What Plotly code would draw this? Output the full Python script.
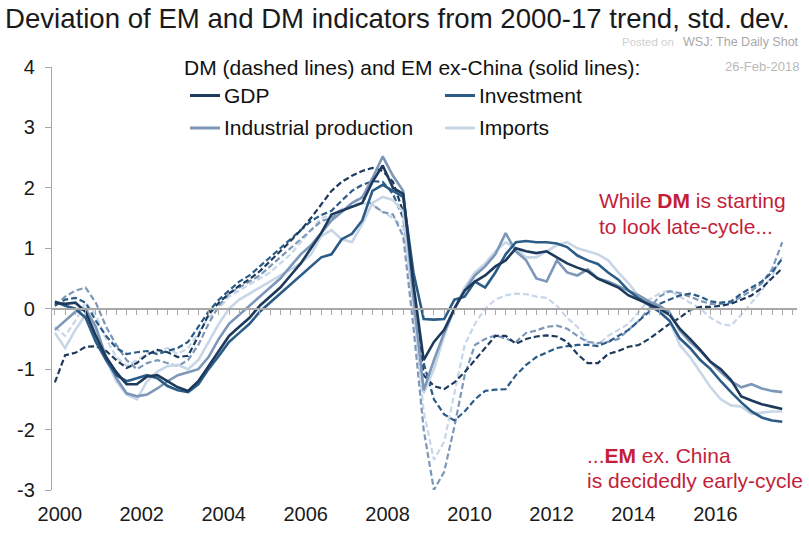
import plotly.graph_objects as go

# ---- data: quarterly deviations from 2000-17 trend (std. dev.), 2000Q1 .. 2017Q4 ----
QUARTERS = [2000 + k / 4 for k in range(72)]

EM_GDP = [0.10, 0.08, 0.10, -0.05, -0.45, -0.80, -1.05, -1.25, -1.25, -1.12, -1.10, -1.20,
          -1.30, -1.36, -1.20, -0.95, -0.70, -0.45, -0.30, -0.15, 0.05, 0.20, 0.35, 0.55,
          0.75, 1.00, 1.25, 1.56, 1.62, 1.68, 1.75, 2.10, 2.37, 2.00, 1.90, 0.40,
          -0.85, -0.55, -0.35, 0.00, 0.30, 0.45, 0.55, 0.70, 0.80, 1.00, 0.95, 0.92,
          0.95, 0.85, 0.75, 0.68, 0.62, 0.50, 0.42, 0.35, 0.22, 0.15, 0.08, 0.00,
          -0.10, -0.33, -0.50, -0.68, -0.88, -1.00, -1.18, -1.45, -1.52, -1.58, -1.62, -1.66]

EM_INVESTMENT = [0.12, 0.05, 0.00, -0.15, -0.55, -0.85, -1.10, -1.20, -1.15, -1.10, -1.15, -1.28,
                 -1.35, -1.38, -1.25, -1.00, -0.78, -0.55, -0.40, -0.25, -0.05, 0.10, 0.25, 0.40,
                 0.55, 0.70, 0.85, 0.90, 1.15, 1.24, 1.46, 1.95, 2.05, 1.95, 1.85, 0.60,
                 -0.17, -0.18, -0.17, 0.15, 0.20, 0.45, 0.35, 0.60, 0.90, 1.10, 1.12, 1.10,
                 1.10, 1.08, 1.02, 0.88, 0.80, 0.74, 0.60, 0.48, 0.30, 0.17, 0.06, -0.05,
                 -0.20, -0.49, -0.65, -0.85, -1.00, -1.20, -1.38, -1.55, -1.70, -1.80, -1.85, -1.87]

EM_IP = [-0.35, -0.20, -0.05, 0.00, -0.30, -0.80, -1.15, -1.40, -1.45, -1.42, -1.32, -1.20,
         -1.10, -1.05, -1.00, -0.80, -0.50, -0.25, -0.10, 0.05, 0.20, 0.35, 0.50, 0.70,
         0.90, 1.05, 1.25, 1.46, 1.60, 1.75, 1.84, 2.16, 2.52, 2.20, 1.95, 0.20,
         -1.35, -0.85, -0.40, 0.00, 0.30, 0.55, 0.70, 0.90, 1.25, 0.95, 0.80, 0.50,
         0.45, 0.80, 0.60, 0.55, 0.65, 0.50, 0.45, 0.37, 0.30, 0.22, 0.12, 0.05,
         -0.06, -0.36, -0.55, -0.70, -0.88, -1.05, -1.20, -1.30, -1.25, -1.32, -1.36, -1.38]

EM_IMPORTS = [-0.40, -0.65, -0.35, -0.10, -0.35, -0.85, -1.20, -1.42, -1.50, -1.20, -1.04, -0.95,
              -0.93, -1.00, -0.85, -0.55, -0.25, 0.00, 0.15, 0.25, 0.35, 0.45, 0.55, 0.65,
              0.75, 0.90, 1.20, 1.30, 1.15, 1.10, 1.40, 1.75, 1.85, 1.80, 1.60, 0.10,
              -1.40, -1.00, -0.45, 0.00, 0.35, 0.60, 0.75, 0.95, 1.10, 1.00, 0.85, 0.85,
              0.95, 1.05, 1.10, 1.00, 0.95, 0.90, 0.80, 0.60, 0.42, 0.20, 0.08, -0.02,
              -0.20, -0.60, -0.80, -1.05, -1.30, -1.50, -1.60, -1.62, -1.74, -1.72, -1.70, -1.70]

DM_GDP = [-1.22, -0.77, -0.73, -0.63, -0.62, -0.70, -0.85, -0.98, -0.90, -0.76, -0.68, -0.72,
          -0.80, -0.78, -0.45, -0.10, 0.10, 0.25, 0.38, 0.49, 0.62, 0.78, 0.95, 1.12,
          1.30, 1.50, 1.72, 1.95, 2.10, 2.20, 2.28, 2.33, 2.28, 2.10, 1.60, 0.20,
          -1.10, -1.28, -1.33, -1.22, -1.05, -0.85, -0.65, -0.45, -0.45, -0.58, -0.50, -0.46,
          -0.44, -0.46, -0.55, -0.75, -0.90, -0.90, -0.75, -0.70, -0.63, -0.60, -0.50, -0.38,
          -0.25, -0.15, -0.02, 0.03, 0.03, 0.05, 0.08, 0.15, 0.22, 0.34, 0.50, 0.67]

DM_INVESTMENT = [0.05, 0.15, 0.18, 0.10, -0.20, -0.45, -0.65, -0.75, -0.72, -0.70, -0.75, -0.70,
                 -0.65, -0.55, -0.30, -0.05, 0.15, 0.30, 0.45, 0.55, 0.70, 0.85, 1.00, 1.15,
                 1.30, 1.45, 1.55, 1.62, 1.79, 1.95, 2.05, 2.11, 2.10, 1.90, 1.50, 0.30,
                 -0.90, -1.50, -1.75, -1.85, -1.70, -1.50, -1.36, -1.34, -1.33, -1.10, -0.93, -0.80,
                 -0.73, -0.65, -0.62, -0.60, -0.60, -0.62, -0.55, -0.45, -0.35, -0.20, -0.05, 0.08,
                 0.15, 0.22, 0.25, 0.20, 0.12, 0.10, 0.12, 0.25, 0.35, 0.45, 0.60, 0.83]

DM_IP = [0.05, 0.20, 0.30, 0.35, 0.10, -0.30, -0.60, -0.85, -1.00, -0.90, -0.85, -0.90,
         -0.95, -0.85, -0.60, -0.25, 0.05, 0.25, 0.35, 0.45, 0.55, 0.70, 0.85, 1.00,
         1.15, 1.30, 1.45, 1.50, 1.60, 1.75, 1.85, 1.72, 1.60, 1.56, 1.20, -0.30,
         -2.00, -3.00, -2.70, -1.95, -1.10, -0.60, -0.50, -0.44, -0.50, -0.55, -0.40, -0.36,
         -0.30, -0.28, -0.33, -0.45, -0.55, -0.57, -0.55, -0.50, -0.35, -0.20, 0.00, 0.20,
         0.29, 0.26, 0.20, 0.13, 0.08, 0.08, 0.10, 0.20, 0.30, 0.42, 0.65, 1.10]

DM_IMPORTS = [-0.30, -0.45, -0.20, 0.10, -0.10, -0.50, -0.80, -0.95, -0.85, -0.75, -0.70, -0.65,
              -0.75, -0.65, -0.40, -0.15, 0.00, 0.20, 0.30, 0.40, 0.50, 0.60, 0.75, 0.90,
              1.10, 1.30, 1.50, 1.55, 1.65, 1.72, 1.75, 1.72, 1.60, 1.50, 1.35, 0.00,
              -1.70, -2.50, -2.20, -1.40, -0.60, -0.25, 0.00, 0.15, 0.22, 0.25, 0.24, 0.20,
              0.18, 0.05, -0.15, -0.30, -0.55, -0.60, -0.45, -0.35, -0.25, -0.05, 0.15, 0.25,
              0.30, 0.20, 0.10, 0.00, -0.15, -0.25, -0.28, -0.10, 0.10, 0.30, 0.55, 0.85]

YEAR_TICKS = [2000, 2002, 2004, 2006, 2008, 2010, 2012, 2014, 2016]
Y_TICKS = [-3, -2, -1, 0, 1, 2, 3, 4]
LEGEND_NAMES = ["GDP", "Investment", "Industrial production", "Imports"]

# ---- styling ----
COLORS = {"GDP": "#1d3a5c", "Investment": "#2b5c87",
          "Industrial production": "#7d97b8", "Imports": "#c8d6e8"}
FONT = "Liberation Sans, Arial, Helvetica, sans-serif"
RED = "#c41e3a"
AXIS_GREY = "#a8a8a8"

W, H = 809, 537
L, R, T, B = 52, 12, 67, 40
PW, PH = W - L - R, H - T - B
X_RANGE = [1999.93, 2018.11]


def px(x):
    return (x - L) / PW


def py(y):
    return (H - B - y) / PH


fig = go.Figure()

dm = {"GDP": DM_GDP, "Investment": DM_INVESTMENT,
      "Industrial production": DM_IP, "Imports": DM_IMPORTS}
em = {"GDP": EM_GDP, "Investment": EM_INVESTMENT,
      "Industrial production": EM_IP, "Imports": EM_IMPORTS}

draw_order = ["Imports", "Industrial production", "Investment", "GDP"]

# DM series: dashed
for name in draw_order:
    fig.add_trace(go.Scatter(
        x=QUARTERS, y=dm[name], mode="lines", name="DM " + name,
        line=dict(color=COLORS[name], width=2.2, dash="6px,3px"),
        showlegend=False, hoverinfo="skip"))

# EM ex-China series: solid
for name in draw_order:
    fig.add_trace(go.Scatter(
        x=QUARTERS, y=em[name], mode="lines", name="EM " + name,
        line=dict(color=COLORS[name], width=2.6),
        showlegend=False, hoverinfo="skip"))

# carrier for the zero axis with quarterly ticks
fig.add_trace(go.Scatter(x=[QUARTERS[0]], y=[0], xaxis="x2", mode="markers",
                         marker=dict(opacity=0), showlegend=False, hoverinfo="skip"))

shapes = []
annotations = []

# legend block
LEG_SIZE = 21
annotations.append(dict(
    text="DM (dashed lines) and EM ex-China (solid lines):", xref="paper", yref="paper",
    x=px(182), y=py(68), xanchor="left", yanchor="middle", showarrow=False,
    font=dict(family=FONT, size=LEG_SIZE, color="#111")))
legend_pos = {"GDP": (190, 96), "Investment": (445, 96),
              "Industrial production": (190, 129), "Imports": (445, 129)}
for name in LEGEND_NAMES:
    lx, ly = legend_pos[name]
    shapes.append(dict(type="line", xref="paper", yref="paper",
                       x0=px(lx), x1=px(lx + 30), y0=py(ly), y1=py(ly),
                       line=dict(color=COLORS[name], width=3)))
    annotations.append(dict(
        text=name, xref="paper", yref="paper", x=px(lx + 32), y=py(ly),
        xanchor="left", yanchor="middle", showarrow=False,
        font=dict(family=FONT, size=LEG_SIZE, color="#111")))

# commentary
red_lines = [("While <b>DM</b> is starting", 597, 203),
             ("to look late-cycle...", 597, 229),
             ("...<b>EM</b> ex. China", 585, 462),
             ("is decidedly early-cycle", 585, 487)]
for txt, x, y in red_lines:
    annotations.append(dict(
        text=txt, xref="paper", yref="paper", x=px(x), y=py(y),
        xanchor="left", yanchor="middle", showarrow=False,
        font=dict(family=FONT, size=21, color=RED)))

# source / date
annotations.append(dict(text="Posted on", xref="paper", yref="paper", x=px(676), y=py(42),
                        xanchor="right", yanchor="middle", showarrow=False,
                        font=dict(family=FONT, size=11.5, color="#cfcfcf")))
annotations.append(dict(text="WSJ: The Daily Shot", xref="paper", yref="paper", x=px(801),
                        y=py(42), xanchor="right", yanchor="middle", showarrow=False,
                        font=dict(family=FONT, size=12.5, color="#a9a9a9")))
annotations.append(dict(text="26-Feb-2018", xref="paper", yref="paper", x=px(801),
                        y=py(66), xanchor="right", yanchor="middle", showarrow=False,
                        font=dict(family=FONT, size=13, color="#b9b9b9")))

fig.update_layout(
    width=W, height=H,
    margin=dict(l=L, r=R, t=T, b=B),
    paper_bgcolor="white", plot_bgcolor="white",
    title=dict(text="Deviation of EM and DM indicators from 2000-17 trend, std. dev.",
               x=5 / W, xanchor="left", xref="container",
               y=1 - 18 / H, yanchor="middle", yref="container",
               font=dict(family=FONT, size=27.6, color="#1a1a1a")),
    xaxis=dict(range=X_RANGE, tickvals=[y + 0.12 for y in YEAR_TICKS],
               ticktext=[str(y) for y in YEAR_TICKS],
               showline=False, ticks="", showgrid=False, zeroline=False,
               ticklabelstandoff=10,
               tickfont=dict(family=FONT, size=20, color="#1a1a1a")),
    xaxis2=dict(range=X_RANGE, overlaying="x", anchor="free", position=py(313),
                side="bottom", showline=True, linecolor=AXIS_GREY, linewidth=1.5,
                ticks="outside", tickcolor=AXIS_GREY, ticklen=5, tickwidth=1,
                tick0=2000, dtick=0.25, showticklabels=False,
                showgrid=False, zeroline=False),
    yaxis=dict(range=[-3, 4], tickvals=Y_TICKS, ticktext=[str(v) for v in Y_TICKS],
               showline=True, linecolor=AXIS_GREY, linewidth=1.2,
               ticks="outside", tickcolor=AXIS_GREY, ticklen=6,
               showgrid=False, zeroline=False, ticklabelstandoff=6,
               tickfont=dict(family=FONT, size=20, color="#1a1a1a")),
    shapes=shapes,
    annotations=annotations,
)

fig.write_html("out.html")
